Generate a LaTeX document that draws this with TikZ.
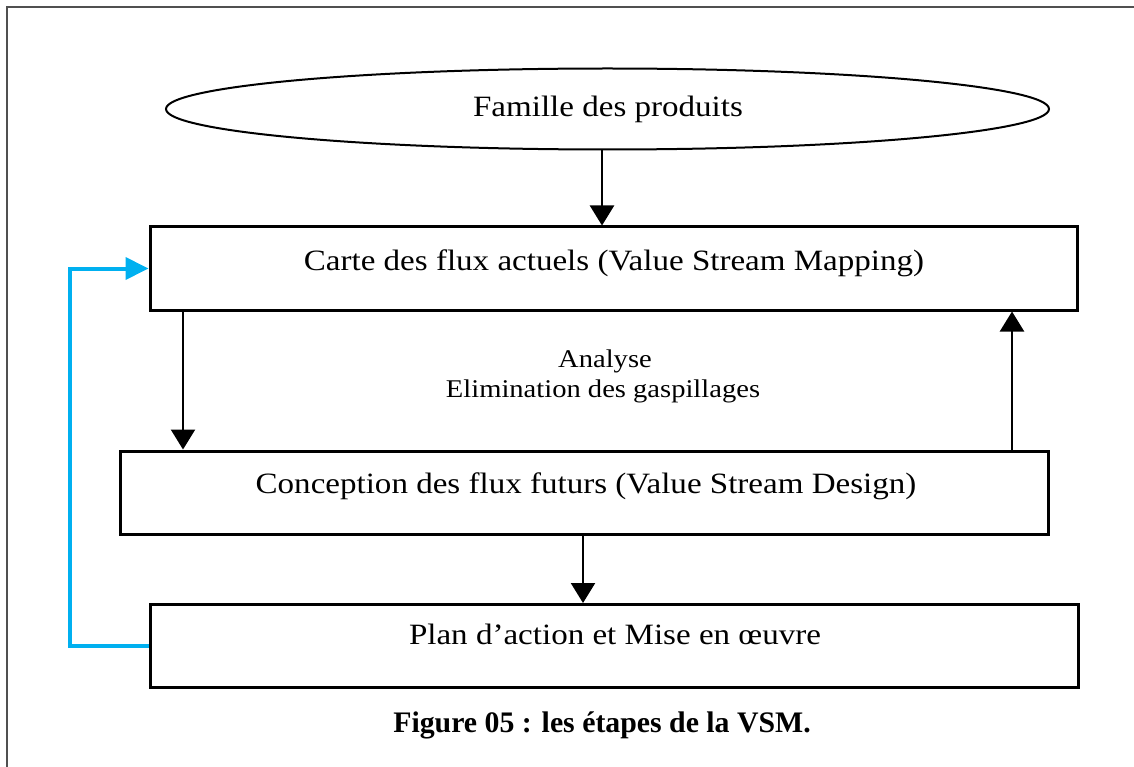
\documentclass[tikz,border=0pt]{standalone}
\usepackage{fontspec}
\setmainfont{Liberation Serif}
\newfontfamily\boxfont[FakeStretch=1.12]{Liberation Serif}
\usetikzlibrary{shapes.geometric,arrows.meta}
\definecolor{loopblue}{HTML}{00B0F0}
\definecolor{framegray}{HTML}{505050}
\begin{document}
\begin{tikzpicture}[x=1pt,y=-1pt,
  stepbox/.style={draw=black,line width=3pt,rectangle,inner sep=0pt,minimum height=83pt},
  famille/.style={draw=black,line width=2pt,ellipse,inner sep=0pt,minimum width=883pt,minimum height=81pt},
  label/.style={anchor=base,inner sep=0pt,font=\boxfont\fontsize{29.5}{34}\selectfont},
  note/.style={anchor=base,inner sep=0pt,font=\boxfont\fontsize{25.5}{30}\selectfont},
  flow/.style={draw=black,line width=2.3pt,-{Triangle[length=20pt,width=24pt]}},
  feedback/.style={draw=loopblue,line width=4pt,line join=miter,-{Triangle[length=23pt,width=22pt]}}]
\useasboundingbox (0,0) rectangle (1134,767);
% page frame
\draw[framegray,line width=1.4pt] (7,767) -- (7,7) -- (1134,7);

% shapes
\node[famille] (fam) at (607.5,109) {};
\node[stepbox,minimum width=927pt] (b1) at (613.5,268.5) {};
\node[stepbox,minimum width=928pt] (b2) at (584,492.5) {};
\node[stepbox,minimum width=928pt] (b3) at (614,646) {};

% texts
\node[label] (tfam) at (608,117) {Famille des produits};
\node[label] (t1) at (614,270) {Carte des flux actuels (Value Stream Mapping)};
\node[note] (tana) at (605,367) {Analyse};
\node[note] (telim) at (603,397) {Elimination des gaspillages};
\node[label] (t2) at (586,493) {Conception des flux futurs (Value Stream Design)};
\node[label] (t3) at (615,644) {Plan d’action et Mise en {\oe}uvre};
\node[anchor=base,inner sep=0pt,font=\bfseries\fontsize{29.8}{34}\selectfont] (cap) at (602,732) {Figure 05 : les étapes de la VSM.};

% column guides for the vertical connectors
\coordinate (c1) at (602,0);
\coordinate (c2) at (183,0);
\coordinate (c3) at (1012,0);
\coordinate (c4) at (583,0);
\coordinate (loop) at (70,450);

% connectors
\draw[flow] (fam.south -| c1) -- (b1.north -| c1);
\draw[flow] (b1.south -| c2) -- (b2.north -| c2);
\draw[flow] (b2.north -| c3) -- (b1.south -| c3);
\draw[flow] (b2.south -| c4) -- (b3.north -| c4);
\draw[feedback] (b3.west) -| (loop) |- (b1.west);
\end{tikzpicture}
\end{document}
